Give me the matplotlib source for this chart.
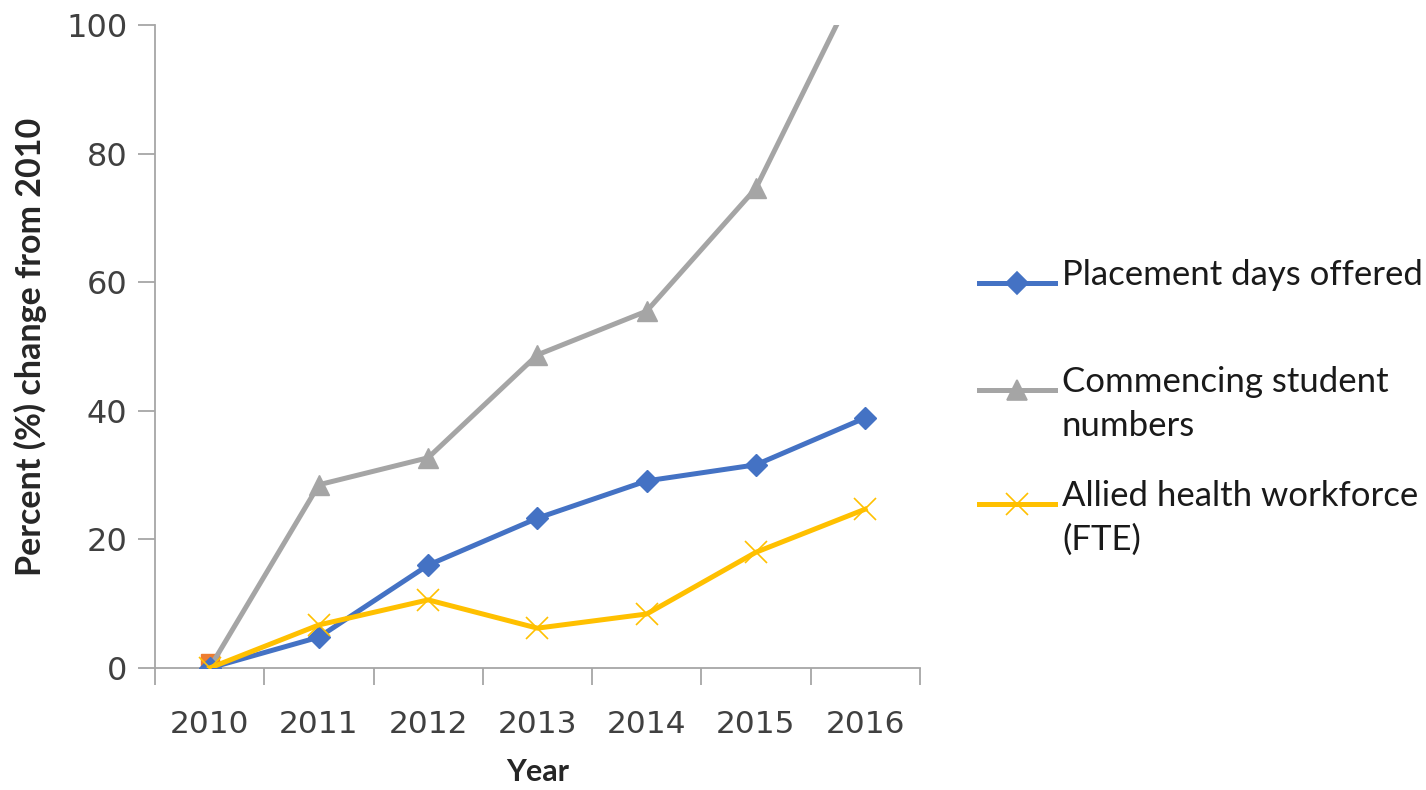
import matplotlib
matplotlib.use("Agg")
import matplotlib.pyplot as plt
from matplotlib.lines import Line2D

# Data
years = ['2010', '2011', '2012', '2013', '2014', '2015', '2016']
placement_days = [0, 4.8, 16.0, 23.3, 29.1, 31.6, 38.9]
student_numbers = [0, 28.5, 32.7, 48.7, 55.5, 74.6, 109.0]
workforce_fte = [0, 6.7, 10.6, 6.2, 8.4, 18.0, 24.7]
hidden_series = [0.8]  # lone orange marker at 2010

labels = ['Placement days offered', 'Commencing student\nnumbers',
          'Allied health workforce\n(FTE)']
colors = ['#4472C4', '#A5A5A5', '#FFC000']
markers = ['D', '^', 'x']

fig = plt.figure(figsize=(14.26, 7.9), dpi=100)
ax = fig.add_axes([0.1087, 0.1544, 0.5363, 0.814])

x = list(range(len(years)))
ax.plot(x[:1], hidden_series, marker='s', color='#ED7D31', markersize=13,
        linestyle='none', zorder=2)
ax.plot(x, student_numbers, color=colors[1], lw=3.6, marker='^', markersize=14, zorder=3)
ax.plot(x, placement_days, color=colors[0], lw=3.6, marker='D', markersize=11, zorder=4)
ax.plot(x, workforce_fte, color=colors[2], lw=3.6, marker='x', markersize=16,
        markeredgewidth=1.2, zorder=5)

ax.set_xlim(-0.5, 6.5)
ax.set_ylim(0, 100)
ax.set_xticks(x)
ax.set_xticklabels(years)
ax.set_xticks([i - 0.5 for i in range(len(years) + 1)], minor=True)
ax.tick_params(axis='x', which='major', length=0, pad=30, labelsize=22.5, colors='#404040')
ax.tick_params(axis='x', which='minor', length=12, width=1.3, color='#A6A6A6')
ax.set_yticks([0, 20, 40, 60, 80, 100])
ax.tick_params(axis='y', length=12, width=1.3, color='#A6A6A6', labelsize=23,
               labelcolor='#404040', pad=8)
for lab in ax.get_xticklabels() + ax.get_yticklabels():
    lab.set_fontfamily('DejaVu Sans')

for s in ['top', 'right']:
    ax.spines[s].set_visible(False)
for s in ['left', 'bottom']:
    ax.spines[s].set_color('#A6A6A6')
    ax.spines[s].set_linewidth(1.3)

ax.set_xlabel('Year', fontsize=22, fontweight='bold', family='Lato', labelpad=14,
              color='#262626')
ax.set_ylabel('Percent (%) change from 2010', fontsize=24.5, fontweight='bold',
              family='Lato', labelpad=14, color='#262626')

# Legend drawn by hand so the handle sits on the first text line
W, H = 1426, 790
ys = [283, 390, 504]
for lab, c, m, yp in zip(labels, colors, markers, ys):
    fy = 1 - yp / H
    ms = 11 if m == 'D' else (14 if m == '^' else 16)
    fig.add_artist(Line2D([979 / W, 1055 / W], [fy, fy], transform=fig.transFigure,
                          color=c, lw=3.6))
    fig.add_artist(Line2D([1017 / W], [fy], transform=fig.transFigure, color=c,
                          marker=m, markersize=ms, markeredgewidth=1.2))
    fig.text(1062 / W, fy + 24 / H, lab, fontsize=25, family='Lato', color='#1A1A1A',
             va='top', ha='left', linespacing=1.45)

plt.savefig('out.png')
